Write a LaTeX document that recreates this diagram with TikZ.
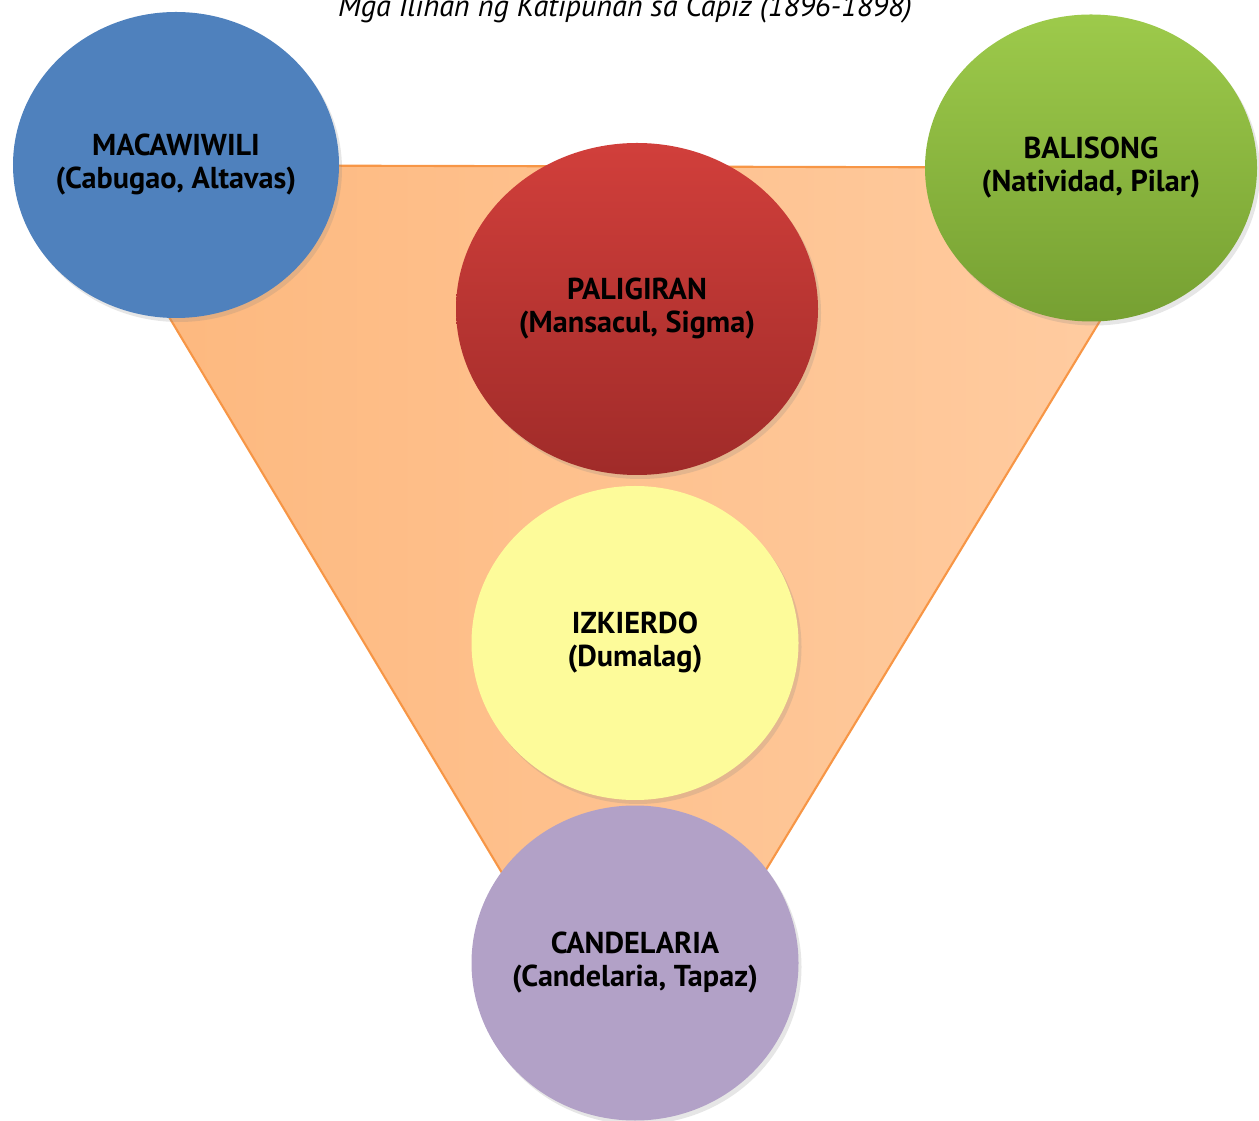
\documentclass[tikz,border=0pt]{standalone}
\usepackage{fontspec}
\setmainfont{PT Sans}
\usetikzlibrary{shapes.geometric,shadows}
\definecolor{blueC}{HTML}{4F81BD}
\definecolor{greenT}{HTML}{9DCA4B}
\definecolor{greenB}{HTML}{76A032}
\definecolor{redT}{HTML}{D13F3B}
\definecolor{redB}{HTML}{A02B29}
\definecolor{yellowC}{HTML}{FDFB9A}
\definecolor{purpleC}{HTML}{B2A1C7}
\definecolor{triL}{HTML}{FDB77C}
\definecolor{triR}{HTML}{FFCDA3}
\definecolor{triEdge}{HTML}{F79646}

\begin{document}
\begin{tikzpicture}[bubble/.style={ellipse,draw=none,inner sep=-1cm,align=center,
    font=\bfseries\fontsize{8.6}{9.4}\selectfont,
    drop shadow={opacity=0.2,shadow xshift=0.03,shadow yshift=-0.04}}]
\useasboundingbox (0,0) rectangle (12.59,-11.21);
% title
\node[anchor=base,font=\itshape\fontsize{8.6}{9}\selectfont] (title) at (6.25,-0.17) {Mga Ilihan ng Katipunan sa Capiz (1896-1898)};
% triangle behind
\coordinate (tl) at (0.78,-1.65);
\coordinate (tr) at (11.93,-1.68);
\coordinate (bt) at (6.32,-10.9);
\shade[left color=triL,right color=triR] (tl)--(tr)--(bt)--cycle;
\draw[triEdge,line width=0.6pt] (tl)--(tr)--(bt)--cycle;
% bubbles
\node[bubble,fill=blueC,minimum width=3.26cm,minimum height=3.06cm] (macawiwili) at (1.76,-1.65) {MACAWIWILI\\(Cabugao, Altavas)};
\node[bubble,top color=greenT,bottom color=greenB,minimum width=3.32cm,minimum height=3.07cm] (balisong) at (10.91,-1.68) {BALISONG\\(Natividad, Pilar)};
\node[bubble,top color=redT,bottom color=redB,minimum width=3.62cm,minimum height=3.32cm] (paligiran) at (6.37,-3.09) {PALIGIRAN\\(Mansacul, Sigma)};
\node[bubble,fill=yellowC,minimum width=3.27cm,minimum height=3.14cm] (izkierdo) at (6.35,-6.43) {IZKIERDO\\(Dumalag)};
\node[bubble,fill=purpleC,minimum width=3.27cm,minimum height=3.15cm] (candelaria) at (6.35,-9.63) {CANDELARIA\\(Candelaria, Tapaz)};
\end{tikzpicture}
\end{document}
